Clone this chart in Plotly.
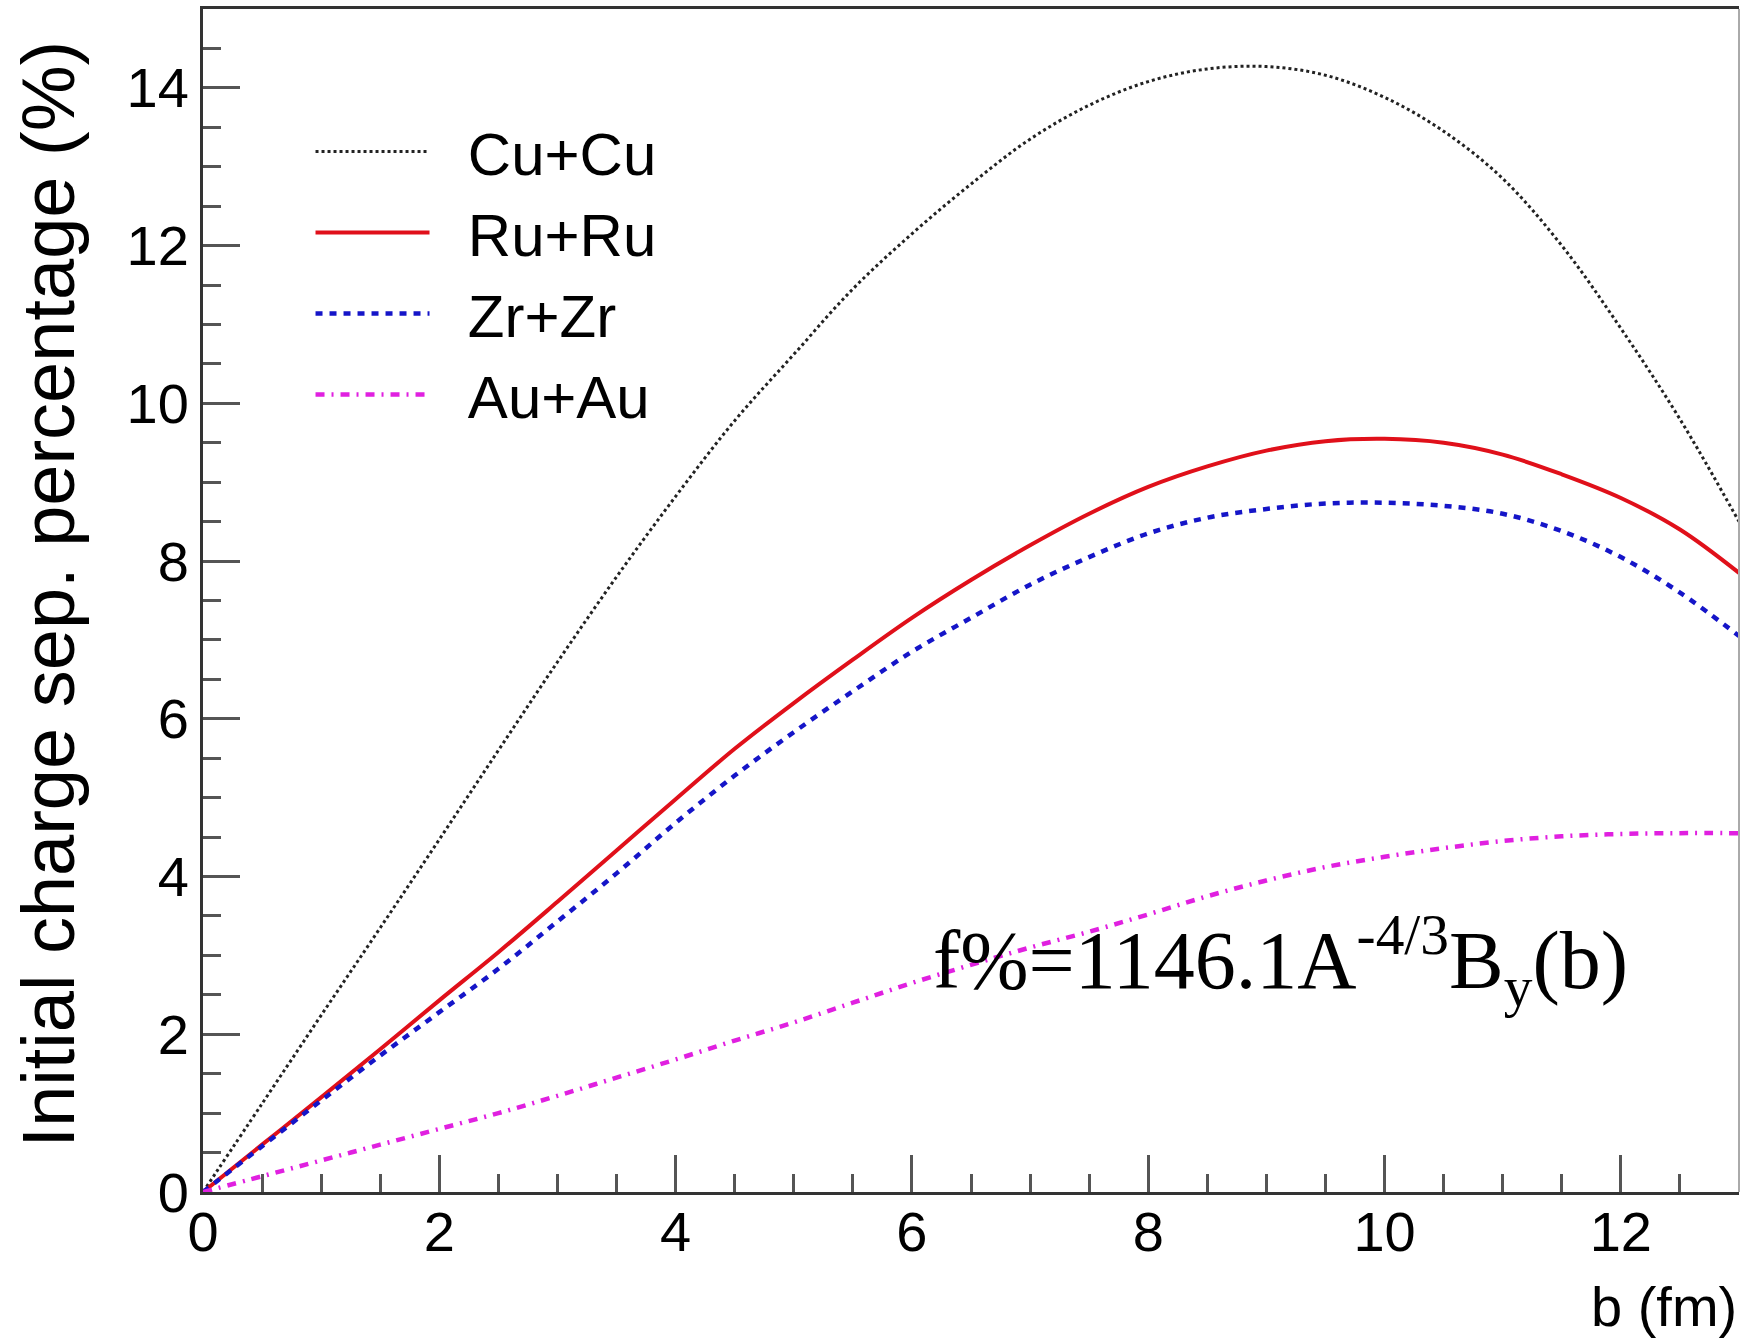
import plotly.graph_objects as go

b_fm = [0, 0.5, 1, 1.5, 2, 2.5, 3, 3.5, 4, 4.5, 5, 5.5, 6, 6.5, 7, 7.5, 8, 8.5, 9, 9.5,
        10, 10.5, 11, 11.5, 12, 12.5, 13]

cu_cu = [0, 1.12, 2.24, 3.35, 4.47, 5.6, 6.72, 7.8, 8.82, 9.78, 10.62, 11.45, 12.15, 12.78,
         13.35, 13.78, 14.08, 14.24, 14.27, 14.16, 13.88, 13.45, 12.85, 12.0, 10.95, 9.8, 8.5]
ru_ru = [0, 0.6, 1.2, 1.81, 2.43, 3.04, 3.68, 4.33, 4.98, 5.62, 6.2, 6.75, 7.28, 7.76,
         8.2, 8.6, 8.94, 9.2, 9.4, 9.52, 9.55, 9.5, 9.35, 9.1, 8.8, 8.4, 7.85]
zr_zr = [0, 0.58, 1.16, 1.73, 2.28, 2.83, 3.43, 4.04, 4.68, 5.28, 5.83, 6.35, 6.85, 7.28,
         7.7, 8.05, 8.35, 8.55, 8.66, 8.73, 8.74, 8.7, 8.6, 8.38, 8.05, 7.6, 7.05]
au_au = [0, 0.2, 0.4, 0.6, 0.8, 1.0, 1.22, 1.45, 1.68, 1.92, 2.15, 2.4, 2.65, 2.88,
         3.1, 3.3, 3.52, 3.75, 3.95, 4.12, 4.25, 4.36, 4.45, 4.51, 4.54, 4.55, 4.55]

x_ticks = [0, 2, 4, 6, 8, 10, 12]
y_ticks = [0, 2, 4, 6, 8, 10, 12, 14]

SANS = "Liberation Sans, Arial, sans-serif"
SERIF = "Liberation Serif, Times New Roman, serif"
GAP = "\u00a0\u00a0"

fig = go.Figure()
fig.add_trace(go.Scatter(x=b_fm, y=cu_cu, mode="lines", name=GAP + "Cu+Cu", line_shape="spline",
                         line=dict(color="#222222", width=3, dash="3px,3px")))
fig.add_trace(go.Scatter(x=b_fm, y=ru_ru, mode="lines", name=GAP + "Ru+Ru", line_shape="spline",
                         line=dict(color="#e0101a", width=4)))
fig.add_trace(go.Scatter(x=b_fm, y=zr_zr, mode="lines", name=GAP + "Zr+Zr", line_shape="spline",
                         line=dict(color="#1515c8", width=4.5, dash="7px,7px")))
fig.add_trace(go.Scatter(x=b_fm, y=au_au, mode="lines", name=GAP + "Au+Au", line_shape="spline",
                         line=dict(color="#e020e0", width=4.5, dash="9px,7px,2px,7px")))

axis_common = dict(
    showgrid=False, zeroline=False, showline=True, linecolor="#333333", linewidth=3,
    ticks="inside", tickcolor="#555555", tickwidth=3, ticklen=37,
    tickfont=dict(family=SANS, size=56, color="black"),
)

fig.update_xaxes(range=[0, 13], tickvals=x_ticks, mirror=True, ticklabelstandoff=-11,
                 minor=dict(ticks="inside", dtick=0.5, ticklen=18, tickcolor="#555555", tickwidth=3),
                 **axis_common)
fig.update_yaxes(range=[0, 15], tickvals=y_ticks, ticklabelstandoff=0,
                 minor=dict(ticks="inside", dtick=0.5, ticklen=18, tickcolor="#555555", tickwidth=3),
                 **axis_common)

fig.add_shape(type="line", xref="paper", yref="paper", x0=1, x1=1, y0=0, y1=1,
              line=dict(color="#aaaaaa", width=2))

fig.add_annotation(text="Initial charge sep. percentage (%)", xref="paper", yref="paper",
                   x=-0.1, y=0.5055, xanchor="center", yanchor="middle", textangle=-90,
                   showarrow=False, font=dict(family=SANS, size=74, color="black"))
fig.add_annotation(text="b (fm)", xref="paper", yref="paper", x=1.0, y=-0.097,
                   xanchor="right", yanchor="middle", showarrow=False,
                   font=dict(family=SANS, size=56, color="black"))
fig.add_annotation(text="f%=1146.1A<sup>-4/3</sup>B<sub>y</sub>(b)", xref="paper", yref="paper",
                   x=0.474, y=0.196, xanchor="left", yanchor="middle", showarrow=False,
                   font=dict(family=SERIF, size=82, color="black"))

fig.update_layout(
    width=1742, height=1338,
    margin=dict(l=203, r=3, t=9, b=146),
    plot_bgcolor="white", paper_bgcolor="white",
    showlegend=True,
    legend=dict(x=0.07, y=0.918, xanchor="left", yanchor="top",
                font=dict(family=SANS, size=60, color="black"),
                itemwidth=114, bgcolor="rgba(0,0,0,0)", tracegroupgap=0),
)

fig.write_html("out.html")
